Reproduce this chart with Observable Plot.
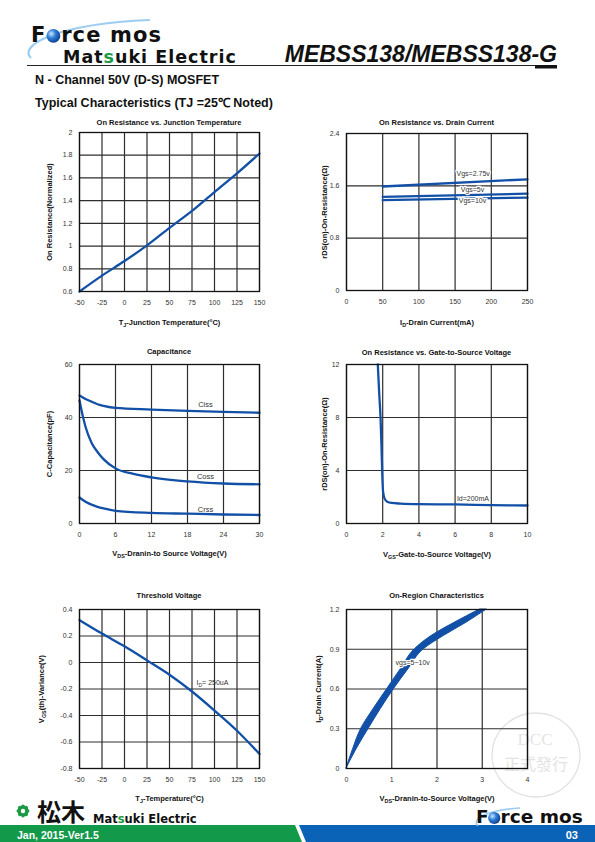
<!DOCTYPE html>
<html><head><meta charset="utf-8">
<script src="https://cdn.jsdelivr.net/npm/d3@7"></script>
<script src="https://cdn.jsdelivr.net/npm/@observablehq/plot@0.6"></script>
<style>
body{margin:0;background:#fff;}
#page{position:relative;width:595px;height:842px;overflow:hidden;font-family:"Liberation Sans",Arial,sans-serif;}
#bg{position:absolute;left:0;top:0;}
.ctitle{position:absolute;font:bold 7.5px "Liberation Sans",Arial,sans-serif;color:#111;white-space:nowrap;transform:translate(-50%,-50%);}
.chart{position:absolute;}
.chart g[aria-label="x-axis label"] text,.chart g[aria-label="y-axis label"] text{font-weight:bold;font-size:7.5px;fill:#111;}
</style></head>
<body><div id="page"></div>
<script>
// ---------------- data ----------------
const tempC = [-50,-25,0,25,50,75,100,125,150];
const rdsNormalized = [0.60,0.74,0.868,1.006,1.16,1.31,1.476,1.64,1.815];

const drainCurrent_mA = [50,250];
const rdsVgs2_75 = [1.59,1.70];
const rdsVgs5 = [1.43,1.48];
const rdsVgs10 = [1.38,1.42];
const vgsNames = ["Vgs=2.75v","Vgs=5v","Vgs=10v"];
const vgsNameAt_mA = [175,174,174];
const vgsNameAtOhm = [1.79,1.54,1.37];

const vdsCap = [0,1,2,3,4,6,12,18,24,30];
const ciss = [48.3,47,46,45,44.4,43.6,43,42.5,42.1,41.8];
const crss = [9.8,8.2,7.1,6.3,5.7,4.8,4.0,3.7,3.4,3.2];
const vdsCoss = [0,0.5,1,2,3,4,6,9,12,18,24,30];
const coss = [46.5,41,36.5,30.5,27,24.3,20.8,18.7,17.4,15.9,15.1,14.8];
const capNames = ["Ciss","Coss","Crss"];
const capNameAtV = [21,21,21];
const capNameAtPF = [45,17.7,5.4];

const vgsSweep = [1.73,1.8,1.88,1.93,1.97,2.02,2.1,2.25,2.5,3,4,6,8,10];
const rdsVsVgs = [12,10,8,6,4,2.4,1.9,1.65,1.55,1.5,1.46,1.44,1.39,1.36];
const idNote = ["Id=200mA"]; const idNoteV = [6.1]; const idNoteOhm = [1.9];

const tempTh = [-50,-25,0,25,50,75,100,125,150];
const vthVariance = [0.32,0.218,0.122,0.016,-0.092,-0.219,-0.363,-0.515,-0.69];
const vthNote = ["I_{D}= 250uA"]; const vthNoteT = [80]; const vthNoteV = [-0.153];

const idOnRegion = [0,0.15,0.3,0.45,0.6,0.75,0.9,1.0,1.1,1.2];
const vdsHighVgs = [0,0.15,0.325,0.6,0.9,1.2,1.51,1.88,2.39,2.95];
const vdsLowVgs = [0,0.23,0.49,0.76,1.05,1.37,1.71,2.15,2.65,3.1];
const onNote = ["vgs=5~10v"]; const onNoteV = [1.085]; const onNoteA = [0.80];

// tick values
const ticksTemp = [-50,-25,0,25,50,75,100,125,150];
const ticksRdsNorm = [0.6,0.8,1,1.2,1.4,1.6,1.8,2];
const ticksId_mA = [0,50,100,150,200,250];
const ticksRdsId = [0,0.8,1.6,2.4];
const ticksVdsCap = [0,6,12,18,24,30];
const ticksCap = [0,20,40,60];
const ticksVgs = [0,2,4,6,8,10];
const ticksRdsVgs = [0,4,8,12];
const ticksVth = [-0.8,-0.6,-0.4,-0.2,0,0.2,0.4];
const ticksVdsOn = [0,1,2,3,4];
const ticksIdA = [0,0.3,0.6,0.9,1.2];

// ---------------- helpers ----------------
const BLUE = "#1150a6";
const page = document.getElementById("page");
const NS = "http://www.w3.org/2000/svg";
const FONT = '"Liberation Sans", Arial, sans-serif';

function applySub(root){
  root.querySelectorAll("text").forEach(t=>{
    if (t.querySelector("tspan")) {
      t.querySelectorAll("tspan").forEach(ts=>applySubNode(ts));
    } else applySubNode(t);
  });
}
function applySubNode(t){
  const s = t.textContent;
  if (!s.includes("_{")) return;
  while (t.firstChild) t.removeChild(t.firstChild);
  const parts = s.split(/(_\{[^}]*\})/).filter(p=>p);
  let shifted = false;
  for (const p of parts){
    const ts = document.createElementNS(NS,"tspan");
    if (p.startsWith("_{")){
      ts.textContent = p.slice(2,-1);
      ts.setAttribute("font-size","72%");
      ts.setAttribute("dy","2");
      shifted = true;
    } else {
      ts.textContent = p;
      if (shifted){ ts.setAttribute("dy","-2"); shifted=false; }
    }
    t.appendChild(ts);
  }
}

function makeChart(c){
  const ML=50, MR=12, MT=8, MB=42;
  const b = c.box;
  const grid = {stroke:"#2e2e2e", strokeOpacity:1, strokeWidth:1.2};
  const svg = Plot.plot({
    width: b.w+ML+MR, height: b.h+MT+MB,
    marginLeft:ML, marginRight:MR, marginTop:MT, marginBottom:MB,
    style:{fontFamily:FONT, fontSize:"7px", color:"#333", background:"transparent", overflow:"visible"},
    x:{domain:c.xDomain},
    y:{domain:c.yDomain},
    marks:[
      Plot.gridX({ticks:c.xTicks, ...grid}),
      Plot.gridY({ticks:c.yTicks, ...grid}),
      ...c.marks,
      Plot.frame({stroke:"#111", strokeWidth:1.3}),
      Plot.axisX({ticks:c.xTicks, tickSize:0, tickPadding:9, tickFormat:d=>String(d),
        label:c.xLabel, labelAnchor:"center", labelOffset:c.xOff, labelArrow:false, fill:"#333"}),
      Plot.axisY({ticks:c.yTicks, tickSize:0, tickPadding:7, tickFormat:d=>String(d),
        label:c.yLabel, labelAnchor:"center", labelOffset:c.yOff, labelArrow:false, fill:"#333"})
    ]
  });
  const div = document.createElement("div");
  div.className="chart";
  div.style.left=(b.left-ML)+"px";
  div.style.top=(b.top-MT)+"px";
  div.appendChild(svg);
  page.appendChild(div);
  applySub(div);
  const t = document.createElement("div");
  t.className="ctitle";
  t.textContent=c.title;
  t.style.left=(b.left+b.w/2)+"px";
  t.style.top=c.titleY+"px";
  page.appendChild(t);
}

// ---------------- header / footer ----------------
page.insertAdjacentHTML("beforeend", `
<svg id="bg" width="595" height="842" xmlns="${NS}" font-family='${FONT}'>
  <defs>
    <radialGradient id="ball" cx="35%" cy="35%" r="70%">
      <stop offset="0" stop-color="#cfe6ff"/><stop offset="0.45" stop-color="#2f7fd6"/><stop offset="1" stop-color="#0b3c8c"/>
    </radialGradient>
  </defs>
  <path d="M31,58 C18,46 55,24 150,20" fill="none" stroke="#8cc3ee" stroke-width="2.2" opacity="0.85"/>
  <text id="fm1" x="31" y="41.5" font-family="DejaVu Sans" font-weight="bold" font-size="21" letter-spacing="1.1" fill="#111">F<tspan fill="none">o</tspan>rce mos</text>
  <text x="63" y="63" font-family="DejaVu Sans" font-weight="bold" font-size="17.5" letter-spacing="1" fill="#111">Mat<tspan fill="#1d9a45">s</tspan>uki Electric</text>
  <line x1="27" x2="536" y1="65.5" y2="65.5" stroke="#222" stroke-width="1"/>
  <text x="557" y="62" text-anchor="end" font-style="italic" font-weight="bold" font-size="23" fill="#111">MEBSS138/MEBSS138-G</text>
  <rect x="535" y="65" width="22" height="3.5" fill="#111"/>
  <text x="35" y="84" font-weight="bold" font-size="12.5" fill="#111">N - Channel 50V (D-S) MOSFET</text>
  <text x="35" y="107" font-weight="bold" font-size="12.5" fill="#111">Typical Characteristics (TJ =25℃ Noted)</text>

  <ellipse cx="536" cy="755" rx="44" ry="42" fill="none" stroke="#e2e2e2" stroke-width="1.3"/>
  <text x="535" y="745" text-anchor="middle" font-family="Liberation Serif" font-size="17" fill="#e4e4e4">DCC</text>
  <text x="536" y="770" text-anchor="middle" font-family="Noto Sans CJK TC" font-size="16" fill="#e4e4e4">正式發行</text>

  <polygon points="0,825 295,825 302,842 0,842" fill="#13994a"/>
  <polygon points="299,825 595,825 595,842 306,842" fill="#0a63b6"/>
  <text x="17" y="838.5" font-weight="bold" font-size="10.5" fill="#fff">Jan, 2015-Ver1.5</text>
  <text x="578" y="838.5" text-anchor="end" font-weight="bold" font-size="11" fill="#fff">03</text>
  <g fill="#1d9a45" transform="translate(23,811)">
    <ellipse rx="3.2" ry="6.5" transform="rotate(0)"/><ellipse rx="3.2" ry="6.5" transform="rotate(45)"/>
    <ellipse rx="3.2" ry="6.5" transform="rotate(90)"/><ellipse rx="3.2" ry="6.5" transform="rotate(135)"/>
    <circle r="2.2" fill="#fff"/>
  </g>
  <text x="37" y="821" font-family="Noto Sans CJK JP" font-weight="bold" font-size="24" fill="#111">松木</text>
  <text x="93" y="823" font-family="DejaVu Sans" font-weight="bold" font-size="11.5" fill="#111">Mat<tspan fill="#1d9a45">s</tspan>uki Electric</text>
  <path d="M478,826 C470,818 490,810 520,808" fill="none" stroke="#8cc3ee" stroke-width="1.6" opacity="0.85"/>
  <text id="fm2" x="476" y="823" font-family="DejaVu Sans" font-weight="bold" font-size="18.5" fill="#111">F<tspan fill="none">o</tspan>rce mos</text>
</svg>`);
["fm1","fm2"].forEach(id=>{
  const t=document.getElementById(id);
  try{
    const e=t.getExtentOfChar(1);
    const fs=parseFloat(t.getAttribute("font-size"));
    const c=document.createElementNS(NS,"circle");
    c.setAttribute("cx",e.x+e.width/2);
    c.setAttribute("cy",parseFloat(t.getAttribute("y"))-fs*0.27);
    c.setAttribute("r",fs*0.33);
    c.setAttribute("fill","url(#ball)");
    t.parentNode.appendChild(c);
  }catch(err){}
});

// ---------------- charts ----------------
const lineOpt = {stroke:BLUE, strokeWidth:2.3, curve:"monotone-x"};
const noteOpt = {fill:"#333", fontSize:7};

makeChart({
  title:"On Resistance vs. Junction Temperature", titleY:122,
  box:{left:79, top:132, w:180, h:159},
  xDomain:[-50,150], yDomain:[0.6,2], xTicks:ticksTemp, yTicks:ticksRdsNorm,
  xLabel:"T_{J}-Junction Temperature(°C)", yLabel:"On Resistance(Normalized)", xOff:33, yOff:33,
  marks:[Plot.line(tempC.map((t,i)=>({t, r:rdsNormalized[i]})), {x:"t", y:"r", ...lineOpt})]
});

makeChart({
  title:"On Resistance vs. Drain Current", titleY:122,
  box:{left:346, top:133, w:181, h:157},
  xDomain:[0,250], yDomain:[0,2.4], xTicks:ticksId_mA, yTicks:ticksRdsId,
  xLabel:"I_{D}-Drain Current(mA)", yLabel:"rDS(on)-On-Resistance(Ω)", xOff:34, yOff:25,
  marks:[
    Plot.line(drainCurrent_mA.map((x,i)=>({x, r:rdsVgs2_75[i]})), {x:"x", y:"r", ...lineOpt, curve:"linear"}),
    Plot.line(drainCurrent_mA.map((x,i)=>({x, r:rdsVgs5[i]})), {x:"x", y:"r", ...lineOpt, curve:"linear"}),
    Plot.line(drainCurrent_mA.map((x,i)=>({x, r:rdsVgs10[i]})), {x:"x", y:"r", ...lineOpt, curve:"linear"}),
    Plot.text(vgsNames.map((s,i)=>({s, x:vgsNameAt_mA[i], y:vgsNameAtOhm[i]})), {x:"x", y:"y", text:"s", ...noteOpt, stroke:"white", strokeWidth:2.5})
  ]
});

makeChart({
  title:"Capacitance", titleY:351,
  box:{left:79, top:364, w:180, h:159},
  xDomain:[0,30], yDomain:[0,60], xTicks:ticksVdsCap, yTicks:ticksCap,
  xLabel:"V_{DS}-Dranin-to Source Voltage(V)", yLabel:"C-Capacitance(pF)", xOff:32, yOff:33,
  marks:[
    Plot.line(vdsCap.map((v,i)=>({v, c:ciss[i]})), {x:"v", y:"c", ...lineOpt}),
    Plot.line(vdsCoss.map((v,i)=>({v, c:coss[i]})), {x:"v", y:"c", ...lineOpt}),
    Plot.line(vdsCap.map((v,i)=>({v, c:crss[i]})), {x:"v", y:"c", ...lineOpt}),
    Plot.text(capNames.map((s,i)=>({s, x:capNameAtV[i], y:capNameAtPF[i]})), {x:"x", y:"y", text:"s", ...noteOpt, fontSize:7.5})
  ]
});

makeChart({
  title:"On Resistance vs. Gate-to-Source Voltage", titleY:351.5,
  box:{left:346, top:364, w:181, h:159},
  xDomain:[0,10], yDomain:[0,12], xTicks:ticksVgs, yTicks:ticksRdsVgs,
  xLabel:"V_{GS}-Gate-to-Source Voltage(V)", yLabel:"rDS(on)-On-Resistance(Ω)", xOff:33, yOff:25,
  marks:[
    Plot.line(vgsSweep.map((v,i)=>({v, r:rdsVsVgs[i]})), {x:"v", y:"r", ...lineOpt}),
    Plot.text(idNote.map((s,i)=>({s, x:idNoteV[i], y:idNoteOhm[i]})), {x:"x", y:"y", text:"s", textAnchor:"start", ...noteOpt})
  ]
});

makeChart({
  title:"Threshold Voltage", titleY:595,
  box:{left:79, top:609, w:180, h:159},
  xDomain:[-50,150], yDomain:[-0.8,0.4], xTicks:ticksTemp, yTicks:ticksVth,
  xLabel:"T_{J}-Temperature(°C)", yLabel:"V_{GS}(th)-Variance(V)", xOff:32, yOff:41,
  marks:[
    Plot.line(tempTh.map((t,i)=>({t, v:vthVariance[i]})), {x:"t", y:"v", ...lineOpt}),
    Plot.text(vthNote.map((s,i)=>({s, x:vthNoteT[i], y:vthNoteV[i]})), {x:"x", y:"y", text:"s", textAnchor:"start", ...noteOpt})
  ]
});

makeChart({
  title:"On-Region Characteristics", titleY:595,
  box:{left:346, top:609, w:181, h:159},
  xDomain:[0,4], yDomain:[0,1.2], xTicks:ticksVdsOn, yTicks:ticksIdA,
  xLabel:"V_{DS}-Dranin-to-Source Voltage(V)", yLabel:"I_{D}-Drain Current(A)", xOff:32, yOff:31,
  marks:[
    Plot.areaX(idOnRegion.map((a,i)=>({a, v1:vdsHighVgs[i], v2:vdsLowVgs[i]})), {y:"a", x1:"v1", x2:"v2", fill:BLUE, stroke:BLUE, strokeWidth:1, curve:"monotone-y"}),
    Plot.text(onNote.map((s,i)=>({s, x:onNoteV[i], y:onNoteA[i]})), {x:"x", y:"y", text:"s", textAnchor:"start", ...noteOpt, stroke:"white", strokeWidth:2.5})
  ]
});
</script>
</body></html>
